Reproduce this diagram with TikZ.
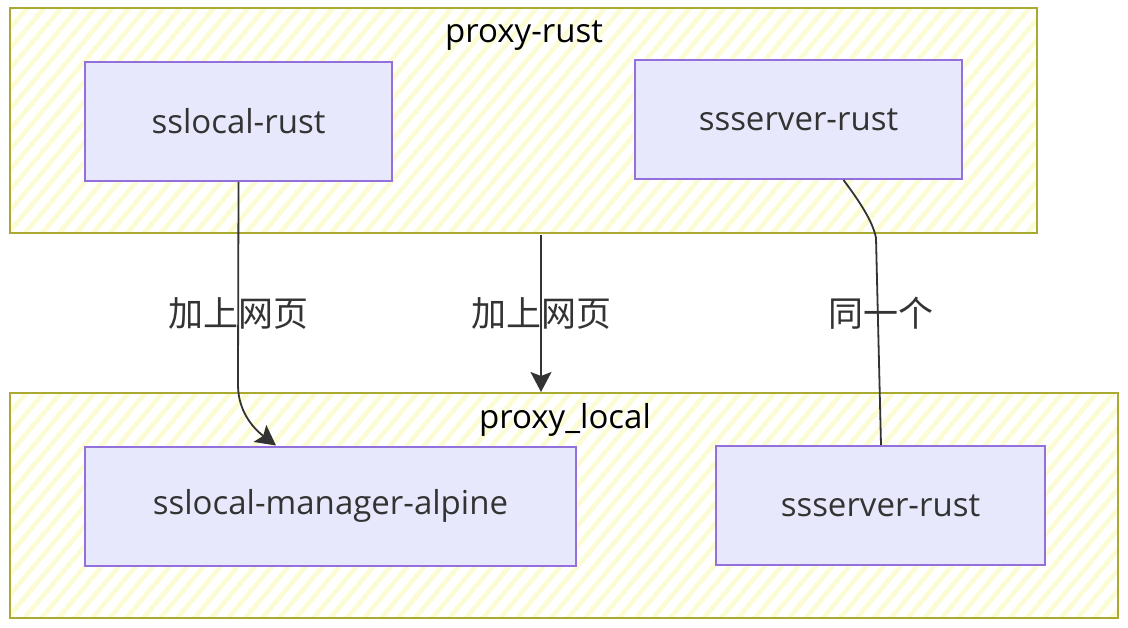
\documentclass[tikz,border=0pt]{standalone}
\usepackage{fontspec}
\setmainfont{Open Sans}
\newfontfamily\cjk{Noto Sans CJK SC}
\usetikzlibrary{arrows.meta,calc,patterns.meta}
\definecolor{clusterline}{HTML}{AAAA33}
\definecolor{clusterhatch}{HTML}{FCFCD4}
\definecolor{boxfill}{HTML}{E8E8FC}
\definecolor{boxline}{HTML}{9370DB}
\definecolor{ink}{HTML}{333333}

\begin{document}
\begin{tikzpicture}[x=1pt,y=-1pt,
    every node/.style={font=\fontsize{33}{39}\selectfont},
    cluster/.style={draw=clusterline,line width=2pt,inner sep=0pt,
        pattern={Lines[angle=50,distance=13pt,line width=5pt]},pattern color=clusterhatch},
    box/.style={draw=boxline,line width=2pt,fill=boxfill,text=ink,inner sep=0pt,minimum height=119pt},
    link/.style={draw=ink,line width=1.8pt},
    arrowlink/.style={link,arrows={-Stealth[length=20pt,width=21pt,inset=4pt]}},
    tag/.style={text=ink,font=\fontsize{35}{41}\selectfont\cjk}]
    \useasboundingbox (0,0) rectangle (1128,628);

    % Gruppen
    \node[cluster,minimum width=1027pt,minimum height=225pt] (proxyrust) at (523.5,120.5) {};
    \node (proxyrustlabel) at (524,36) {proxy-rust};
    \node[cluster,minimum width=1108pt,minimum height=225pt] (proxylocal) at (564,505.5) {};
    \node (proxylocallabel) at (565,420) {proxy\_local};

    % Dienste
    \node[box,minimum width=307pt] (sslocalrust) at (238.5,121.5) {sslocal-rust};
    \node[box,minimum width=327pt] (ssservertop) at (798.5,119.5) {ssserver-rust};
    \node[box,minimum width=491pt] (sslocalmgr) at (330.5,506) {sslocal-manager-alpine};
    \node[box,minimum width=329pt] (ssserverbottom) at (880.5,505.5) {ssserver-rust};

    % Verbindungen
    \coordinate (bend) at (238,385);
    \coordinate (mgrtop) at ($(sslocalmgr.north west)+(192,0)$);
    \draw[arrowlink] (sslocalrust.south) -- (bend) .. controls (238,415) and (258,432) .. (mgrtop);
    \draw[arrowlink] ($(proxyrust.south)+(17.5,0)$) -- ($(proxylocal.north)+(-23,0)$);
    \coordinate (kink) at (876,238);
    \draw[link] ($(ssservertop.south)+(45,0)$) .. controls (860,202) and (873,222) .. (kink) -- ($(ssserverbottom.north)+(0.5,0)$);

    % Beschriftungen
    \node[tag] (tagone) at (238.5,313) {加上网页};
    \node[tag] (tagtwo) at (541,313) {加上网页};
    \node[tag] (tagthree) at (881,313) {同一个};
\end{tikzpicture}
\end{document}
